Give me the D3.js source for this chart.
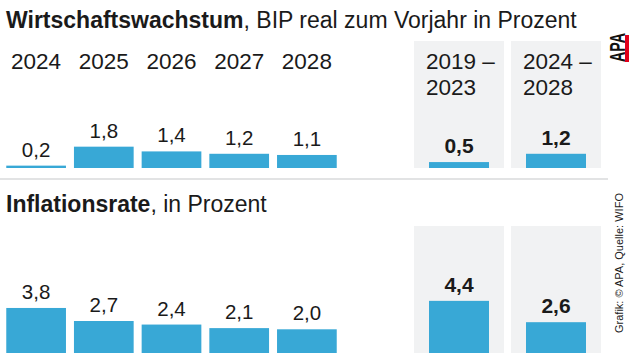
<!DOCTYPE html>
<html>
<head>
<meta charset="utf-8">
<script src="https://cdnjs.cloudflare.com/ajax/libs/d3/7.8.5/d3.min.js"></script>
<style>
  body { margin: 0; background: #fff; }
  svg { display: block; font-family: "Liberation Sans", Arial, sans-serif; }
</style>
</head>
<body>
<script>
// data
var years = ["2024", "2025", "2026", "2027", "2028"];
var growth = [0.2, 1.8, 1.4, 1.2, 1.1];
var inflation = [3.8, 2.7, 2.4, 2.1, 2.0];
var periods = ["2019 –|2023", "2024 –|2028"];
var growthAvg = [0.5, 1.2];
var inflationAvg = [4.4, 2.6];

var width = 640, height = 361;
var blue = "#38a8d6", panelGrey = "#f1f2f3", ink = "#1a1a1a";

var svg = d3.select("body").append("svg")
    .attr("width", width)
    .attr("height", height);

var de = d3.formatLocale({decimal: ",", thousands: ".", grouping: [3], currency: ["", " €"]});
var fmt = de.format(".1f");

var x = d3.scaleBand().domain(years).range([2, 341]).paddingInner(0.118).paddingOuter(0.063);
var xp = d3.scaleBand().domain(periods).range([414, 601]).paddingInner(0.072);
var h = d3.scaleLinear().domain([0, 5]).range([0, 59.25]);
var avgBarW = 60;

// one chart section (title + bars + average panels)
function section(title, sub, titleY, panelTop, base, vals, avgs, showYears) {
    var g = svg.append("g");

    var t = g.append("text").attr("x", 6).attr("y", titleY)
        .style("font-size", "23px").style("fill", ink);
    t.append("tspan").style("font-weight", "bold").text(title);
    t.append("tspan").text(sub);

    // grey panels for the period averages
    g.selectAll("rect.panel").data(periods).enter().append("rect")
        .attr("class", "panel")
        .attr("x", function(d) { return xp(d); })
        .attr("y", panelTop)
        .attr("width", xp.bandwidth())
        .attr("height", base - panelTop)
        .style("fill", panelGrey);

    if (showYears) {
        g.selectAll("text.year").data(years).enter().append("text")
            .attr("class", "year")
            .attr("x", function(d) { return x(d) + x.bandwidth() / 2; })
            .attr("y", 68.5)
            .attr("text-anchor", "middle")
            .style("font-size", "22.5px").style("fill", ink)
            .text(function(d) { return d; });

        var pl = g.selectAll("text.period").data(periods).enter().append("text")
            .attr("class", "period")
            .attr("x", function(d) { return xp(d) + 12; })
            .attr("y", 68.5)
            .style("font-size", "22.5px").style("fill", ink);
        pl.append("tspan").text(function(d) { return d.split("|")[0]; });
        pl.append("tspan").attr("x", function(d) { return xp(d) + 12; }).attr("dy", 26)
            .text(function(d) { return d.split("|")[1]; });
    }

    // yearly bars
    g.selectAll("rect.bar").data(vals).enter().append("rect")
        .attr("class", "bar")
        .attr("x", function(d, i) { return x(years[i]); })
        .attr("y", function(d) { return base - h(d); })
        .attr("width", x.bandwidth())
        .attr("height", function(d) { return h(d); })
        .style("fill", blue);

    g.selectAll("text.val").data(vals).enter().append("text")
        .attr("class", "val")
        .attr("x", function(d, i) { return x(years[i]) + x.bandwidth() / 2; })
        .attr("y", function(d) { return base - h(d) - 9; })
        .attr("text-anchor", "middle")
        .style("font-size", "20.5px").style("fill", ink)
        .text(function(d) { return fmt(d); });

    // average bars
    g.selectAll("rect.avg").data(avgs).enter().append("rect")
        .attr("class", "avg")
        .attr("x", function(d, i) { return xp(periods[i]) + (xp.bandwidth() - avgBarW) / 2; })
        .attr("y", function(d) { return base - h(d); })
        .attr("width", avgBarW)
        .attr("height", function(d) { return h(d); })
        .style("fill", blue);

    g.selectAll("text.avgval").data(avgs).enter().append("text")
        .attr("class", "avgval")
        .attr("x", function(d, i) { return xp(periods[i]) + xp.bandwidth() / 2; })
        .attr("y", function(d) { return base - h(d) - 9; })
        .attr("text-anchor", "middle")
        .style("font-size", "21px").style("font-weight", "bold").style("fill", ink)
        .text(function(d) { return fmt(d); });
}

section("Wirtschaftswachstum", ", BIP real zum Vorjahr in Prozent", 28, 41, 168, growth, growthAvg, true);
section("Inflationsrate", ", in Prozent", 212, 226, 353, inflation, inflationAvg, false);

// separator
svg.append("line")
    .attr("x1", 0).attr("x2", 608)
    .attr("y1", 179).attr("y2", 179)
    .style("stroke", "#e2e3e4").style("stroke-width", 2);

// APA logo
var logo = svg.append("g").attr("transform", "translate(625,62) rotate(-90)");
logo.append("text").attr("x", 0).attr("y", 0)
    .style("font-size", "22px").style("font-weight", "bold").style("fill", "#111")
    .attr("textLength", 29).attr("lengthAdjust", "spacingAndGlyphs").text("APA");
logo.append("rect").attr("x", 0).attr("y", 0).attr("width", 27).attr("height", 4)
    .style("fill", "#e2001a");

// source note
svg.append("text")
    .attr("transform", "translate(623,333) rotate(-90)")
    .style("font-size", "11px").style("fill", ink)
    .text("Grafik: © APA, Quelle: WIFO");
</script>
</body>
</html>
